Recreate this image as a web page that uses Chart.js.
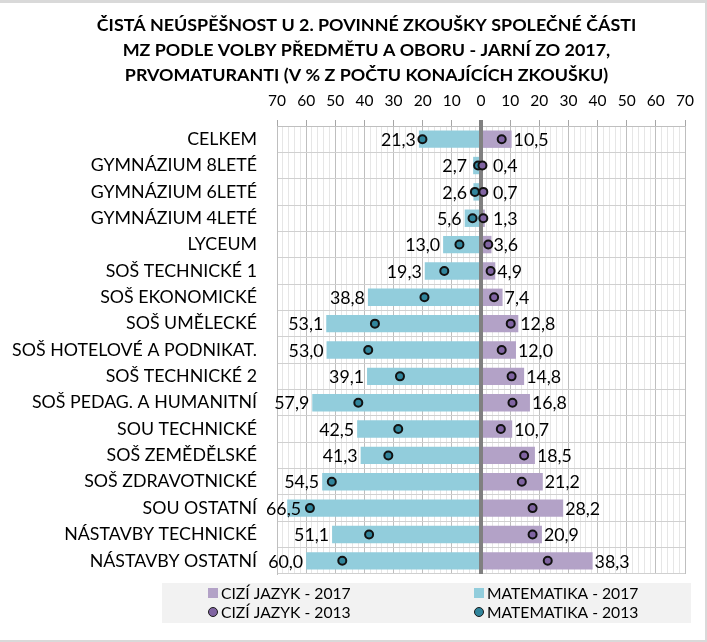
<!DOCTYPE html>
<html>
<head>
<meta charset="utf-8">
<script src="https://cdn.jsdelivr.net/npm/chart.js@4.4.1/dist/chart.umd.min.js"></script>
<style>
    body { margin: 0; background: #fff; }
    #wrap { width: 707px; height: 642px; }
</style>
</head>
<body>
<div id="wrap"><canvas id="chart" width="707" height="642"></canvas></div>
<script>
const titleLines = [
    "ČISTÁ NEÚSPĚŠNOST U 2. POVINNÉ ZKOUŠKY SPOLEČNÉ ČÁSTI",
    "MZ PODLE VOLBY PŘEDMĚTU A OBORU - JARNÍ ZO 2017,",
    "PRVOMATURANTI (V % Z POČTU KONAJÍCÍCH ZKOUŠKU)"
];

const categories = [
    "CELKEM", "GYMNÁZIUM 8LETÉ", "GYMNÁZIUM 6LETÉ", "GYMNÁZIUM 4LETÉ", "LYCEUM",
    "SOŠ TECHNICKÉ 1", "SOŠ EKONOMICKÉ", "SOŠ UMĚLECKÉ", "SOŠ HOTELOVÉ A PODNIKAT.",
    "SOŠ TECHNICKÉ 2", "SOŠ PEDAG. A HUMANITNÍ", "SOU TECHNICKÉ", "SOŠ ZEMĚDĚLSKÉ",
    "SOŠ ZDRAVOTNICKÉ", "SOU OSTATNÍ", "NÁSTAVBY TECHNICKÉ", "NÁSTAVBY OSTATNÍ"
];

const ciziJazyk2017 = [10.5, 0.4, 0.7, 1.3, 3.6, 4.9, 7.4, 12.8, 12.0, 14.8, 16.8, 10.7, 18.5, 21.2, 28.2, 20.9, 38.3];
const matematika2017 = [21.3, 2.7, 2.6, 5.6, 13.0, 19.3, 38.8, 53.1, 53.0, 39.1, 57.9, 42.5, 41.3, 54.5, 66.5, 51.1, 60.0];
const ciziJazyk2013 = [7.1, 0.5, 0.8, 0.8, 2.5, 3.3, 4.5, 10.2, 7.1, 10.5, 10.8, 6.8, 14.8, 14.0, 17.7, 17.7, 22.9];
const matematika2013 = [20.1, 1.0, 2.1, 2.9, 7.4, 12.6, 19.4, 36.4, 38.7, 27.8, 42.1, 28.4, 31.8, 51.2, 58.7, 38.4, 47.6];

const axisMax = 70;
const FONT = "Lato";

// pick font sizes so the text widths come out like the original
const measureCtx = document.createElement("canvas").getContext("2d");
function fitSize(text, width, weight) {
    measureCtx.font = weight + " 100px " + FONT;
    return Math.round(1000 * width / measureCtx.measureText(text).width) / 10;
}
const titleSize = fitSize(titleLines[0], 539, "bold");
const catSize = fitSize("GYMNÁZIUM 8LETÉ", 166, "normal");
const valueSize = fitSize("53,1", 35, "normal");
const tickSize = fitSize("70", 18, "normal");
const legendSize = fitSize("CIZÍ JAZYK - 2017", 130, "normal");

function fmt(v) {
    return v.toFixed(1).replace(".", ",");
}

const backgroundPlugin = {
    id: "background",
    beforeDraw(chart) {
        const ctx = chart.ctx;
        ctx.save();
        ctx.fillStyle = "#d9d9d9";
        ctx.fillRect(0, 0, chart.width, chart.height);
        ctx.fillStyle = "#ffffff";
        ctx.fillRect(0, 3, chart.width - 2, chart.height - 5);
        ctx.restore();
    }
};

const titlePlugin = {
    id: "titleLines",
    afterDraw(chart) {
        const ctx = chart.ctx;
        ctx.save();
        ctx.font = "bold " + titleSize + "px " + FONT;
        ctx.fillStyle = "#000";
        ctx.textAlign = "center";
        ctx.textBaseline = "middle";
        titleLines.forEach((line, i) => ctx.fillText(line, 366.5, 25 + i * 25));
        ctx.restore();
    }
};

// thick grey axis at zero, above the bars but under the 2013 points
const zeroLinePlugin = {
    id: "zeroLine",
    beforeDatasetsDraw(chart) {
        chart._zeroDone = false;
    },
    beforeDatasetDraw(chart, args) {
        if (chart._zeroDone || args.meta.type !== "line") return;
        chart._zeroDone = true;
        const x = chart.scales.x.getPixelForValue(0);
        const ctx = chart.ctx;
        ctx.save();
        ctx.strokeStyle = "#808080";
        ctx.lineWidth = 4;
        ctx.beginPath();
        ctx.moveTo(x, chart.chartArea.top - 6);
        ctx.lineTo(x, chart.chartArea.bottom);
        ctx.stroke();
        ctx.restore();
    }
};

const valueLabelPlugin = {
    id: "valueLabels",
    afterDatasetsDraw(chart) {
        const ctx = chart.ctx;
        const zero = chart.scales.x.getPixelForValue(0);
        ctx.save();
        ctx.font = valueSize + "px " + FONT;
        ctx.fillStyle = "#000";
        ctx.textBaseline = "middle";
        chart.getDatasetMeta(1).data.forEach((bar, i) => {
            const text = fmt(matematika2017[i]);
            const w = ctx.measureText(text).width;
            let right = Math.min(bar.x - 3, zero - 14);
            right = Math.max(right, 266 + w);
            ctx.textAlign = "right";
            ctx.fillText(text, right, bar.y + 1);
        });
        chart.getDatasetMeta(0).data.forEach((bar, i) => {
            const left = Math.max(bar.x + 2, zero + 12);
            ctx.textAlign = "left";
            ctx.fillText(fmt(ciziJazyk2017[i]), left, bar.y + 1);
        });
        ctx.restore();
    }
};

const legendPlugin = {
    id: "boxLegend",
    afterDraw(chart) {
        const ctx = chart.ctx;
        const ds = chart.data.datasets;
        ctx.save();
        ctx.fillStyle = "#f2f2f2";
        ctx.fillRect(162, 583, 529, 40);
        ctx.font = legendSize + "px " + FONT;
        ctx.textBaseline = "middle";
        ctx.textAlign = "left";
        const cols = [208, 474];
        const rows = [593, 612];
        ds.forEach((d, i) => {
            const x = cols[i % 2];
            const y = rows[Math.floor(i / 2)];
            if (d.type === "bar") {
                ctx.fillStyle = d.backgroundColor;
                ctx.fillRect(x, y - 5, 10, 10);
            } else {
                ctx.beginPath();
                ctx.arc(x + 5, y, 4.5, 0, Math.PI * 2);
                ctx.fillStyle = d.pointBackgroundColor;
                ctx.fill();
                ctx.lineWidth = 1;
                ctx.strokeStyle = "#1a1a1a";
                ctx.stroke();
            }
            ctx.fillStyle = "#000";
            ctx.fillText(d.label, x + 13, y + 1);
        });
        ctx.restore();
    }
};

new Chart(document.getElementById("chart"), {
    data: {
        labels: categories,
        datasets: [
            {
                type: "bar",
                label: "CIZÍ JAZYK - 2017",
                data: ciziJazyk2017,
                backgroundColor: "#b3a2c7",
                grouped: false,
                order: 2,
                barPercentage: 0.66,
                categoryPercentage: 1
            },
            {
                type: "bar",
                label: "MATEMATIKA - 2017",
                data: matematika2017.map(v => -v),
                backgroundColor: "#92cddc",
                grouped: false,
                order: 2,
                barPercentage: 0.66,
                categoryPercentage: 1
            },
            {
                type: "line",
                label: "CIZÍ JAZYK - 2013",
                data: ciziJazyk2013,
                showLine: false,
                pointRadius: 4,
                pointBorderWidth: 2,
                pointBackgroundColor: "#8064a2",
                pointBorderColor: "#111",
                order: 1
            },
            {
                type: "line",
                label: "MATEMATIKA - 2013",
                data: matematika2013.map(v => -v),
                showLine: false,
                pointRadius: 4,
                pointBorderWidth: 2,
                pointBackgroundColor: "#31859c",
                pointBorderColor: "#111",
                order: 1
            }
        ]
    },
    options: {
        indexAxis: "y",
        responsive: false,
        animation: false,
        layout: { padding: { top: 0, left: 0, right: 22, bottom: 68 } },
        plugins: {
            legend: { display: false },
            title: { display: false },
            tooltip: { enabled: false }
        },
        scales: {
            x: {
                type: "linear",
                position: "top",
                min: -axisMax,
                max: axisMax,
                afterFit(scale) { scale.height = 126; },
                ticks: {
                    stepSize: 2,
                    autoSkip: false,
                    maxRotation: 0,
                    padding: 10,
                    color: "#000",
                    font: { family: FONT, size: tickSize },
                    callback: v => (v % 10 === 0 ? Math.abs(v) : "")
                },
                grid: {
                    color: c => (c.tick.value % 10 === 0 ? "#bfbfbf" : "#e6e6e6"),
                    tickColor: c => (c.tick.value % 10 === 0 ? "#a6a6a6" : "rgba(0,0,0,0)"),
                    tickLength: 6
                },
                border: { color: "#bfbfbf" }
            },
            y: {
                type: "category",
                afterFit(scale) { scale.width = 277; },
                ticks: {
                    padding: 20,
                    color: "#000",
                    font: { family: FONT, size: catSize }
                },
                grid: {
                    color: "#d0d0d0",
                    drawTicks: false
                },
                border: { color: "#bfbfbf" }
            }
        }
    },
    plugins: [backgroundPlugin, zeroLinePlugin, valueLabelPlugin, titlePlugin, legendPlugin]
});
</script>
</body>
</html>
